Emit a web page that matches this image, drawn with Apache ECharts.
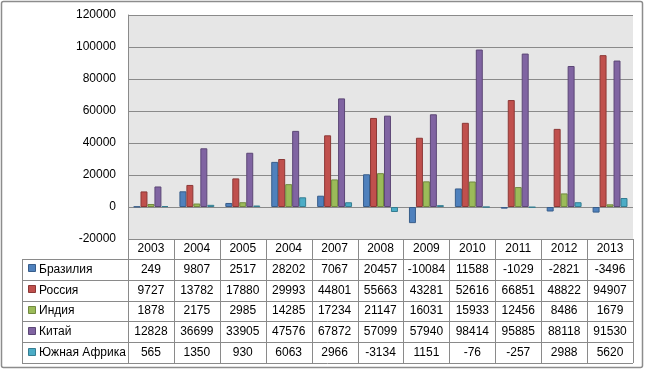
<!DOCTYPE html>
<html>
<head>
<meta charset="utf-8">
<script src="https://cdn.jsdelivr.net/npm/echarts@6/dist/echarts.min.js"></script>
<style>
  html, body { margin: 0; padding: 0; background: #fff; }
  #chart { width: 648px; height: 371px; }
</style>
</head>
<body>
<div id="chart"></div>
<script>
// years as printed in the table (the fourth one really says 2004)
const years = ["2003", "2004", "2005", "2004", "2007", "2008", "2009", "2010", "2011", "2012", "2013"];
const brazil = [249, 9807, 2517, 28202, 7067, 20457, -10084, 11588, -1029, -2821, -3496];
const russia = [9727, 13782, 17880, 29993, 44801, 55663, 43281, 52616, 66851, 48822, 94907];
const india = [1878, 2175, 2985, 14285, 17234, 21147, 16031, 15933, 12456, 8486, 1679];
const china = [12828, 36699, 33905, 47576, 67872, 57099, 57940, 98414, 95885, 88118, 91530];
const safrica = [565, 1350, 930, 6063, 2966, -3134, 1151, -76, -257, 2988, 5620];
const yMin = -20000;
const yMax = 120000;
const yStep = 20000;

const seriesList = [
  { name: "Бразилия", data: brazil, color: "#4F81BD", border: "#385D8A" },
  { name: "Россия", data: russia, color: "#C0504D", border: "#8C3836" },
  { name: "Индия", data: india, color: "#9BBB59", border: "#71893F" },
  { name: "Китай", data: china, color: "#8064A2", border: "#5C4776" },
  { name: "Южная Африка", data: safrica, color: "#4BACC6", border: "#357D91" },
];

const font = "Liberation Sans";
const lineColor = "#8a8a8a";

const chart = echarts.init(document.getElementById("chart"));

let option = {
  animation: false,
  backgroundColor: "#fff",
  grid: {
    left: 128,
    right: 15,
    top: 15,
    bottom: 132,
    show: true,
    backgroundColor: "#e6e6e6",
    borderWidth: 0,
  },
  xAxis: {
    type: "category",
    data: years,
    axisLine: { show: false },
    axisTick: { show: false },
    axisLabel: { show: false },
  },
  yAxis: {
    type: "value",
    min: yMin,
    max: yMax,
    interval: yStep,
    axisLine: { show: true, lineStyle: { color: lineColor, width: 1 } },
    axisTick: { show: false },
    axisLabel: {
      color: "#000",
      fontFamily: font,
      fontSize: 12,
      margin: 12,
      formatter: function (v) {
        return String(v);
      },
    },
    splitLine: { show: true, lineStyle: { color: lineColor, width: 1.2 } },
  },
  series: seriesList.map(function (s) {
    return {
      name: s.name,
      type: "bar",
      data: s.data,
      barGap: "0%",
      barCategoryGap: "24%",
      itemStyle: {
        color: s.color,
        borderColor: s.border,
        borderWidth: 1,
      },
    };
  }),
};
chart.setOption(option);

// data table under the plot, laid out from the category axis
function buildTable() {
  const c0 = chart.convertToPixel({ xAxisIndex: 0 }, 0);
  const c1 = chart.convertToPixel({ xAxisIndex: 0 }, 1);
  const colW = c1 - c0;
  const left = c0 - colW / 2;
  const right = left + colW * years.length;
  const top = chart.convertToPixel({ yAxisIndex: 0 }, yMin);
  const headH = 20;
  const rowH = 20.8;
  const legendLeft = 22;
  const els = [];
  const textStyle = { fontFamily: font, fontSize: 12, fill: "#000" };

  function hline(x1, x2, y) {
    els.push({ type: "line", shape: { x1: x1, y1: Math.round(y) + 0.5, x2: x2, y2: Math.round(y) + 0.5 }, style: { stroke: lineColor, lineWidth: 1 } });
  }
  function vline(x, y1, y2) {
    els.push({ type: "line", shape: { x1: Math.round(x) + 0.5, y1: y1, x2: Math.round(x) + 0.5, y2: y2 }, style: { stroke: lineColor, lineWidth: 1 } });
  }

  const bottom = top + headH + rowH * seriesList.length;
  els.push({ type: "rect", shape: { x: left, y: top, width: right - left, height: bottom - top }, style: { fill: "#fff" } });
  els.push({ type: "rect", shape: { x: legendLeft, y: top + headH, width: left - legendLeft, height: rowH * seriesList.length }, style: { fill: "#fff" } });

  hline(left, right, top);
  hline(legendLeft, right, top + headH);
  for (let r = 1; r <= seriesList.length; r++) {
    hline(legendLeft, right, top + headH + rowH * r);
  }
  vline(legendLeft, top + headH, bottom);
  for (let i = 0; i <= years.length; i++) {
    vline(left + colW * i, top, bottom);
  }

  years.forEach(function (y, i) {
    els.push({ type: "text", x: left + colW * (i + 0.5), y: top + headH / 2, style: Object.assign({ text: y, align: "center", verticalAlign: "middle" }, textStyle) });
  });

  seriesList.forEach(function (s, r) {
    const cy = top + headH + rowH * (r + 0.5);
    els.push({ type: "rect", shape: { x: legendLeft + 6.5, y: Math.round(cy) - 4.5, width: 7, height: 7 }, style: { fill: s.color, stroke: s.border, lineWidth: 1 } });
    els.push({ type: "text", x: legendLeft + 17, y: cy, style: Object.assign({ text: s.name, align: "left", verticalAlign: "middle" }, textStyle) });
    s.data.forEach(function (v, i) {
      els.push({ type: "text", x: left + colW * (i + 0.5), y: cy, style: Object.assign({ text: String(v), align: "center", verticalAlign: "middle" }, textStyle) });
    });
  });

  // outer chart frame
  els.push({ type: "rect", shape: { x: 1.5, y: 1.5, width: 641, height: 366, r: 2 }, style: { fill: "none", stroke: "#8c8c8c", lineWidth: 1.5 } });

  chart.setOption({ graphic: { elements: els } });
}
buildTable();
</script>
</body>
</html>
